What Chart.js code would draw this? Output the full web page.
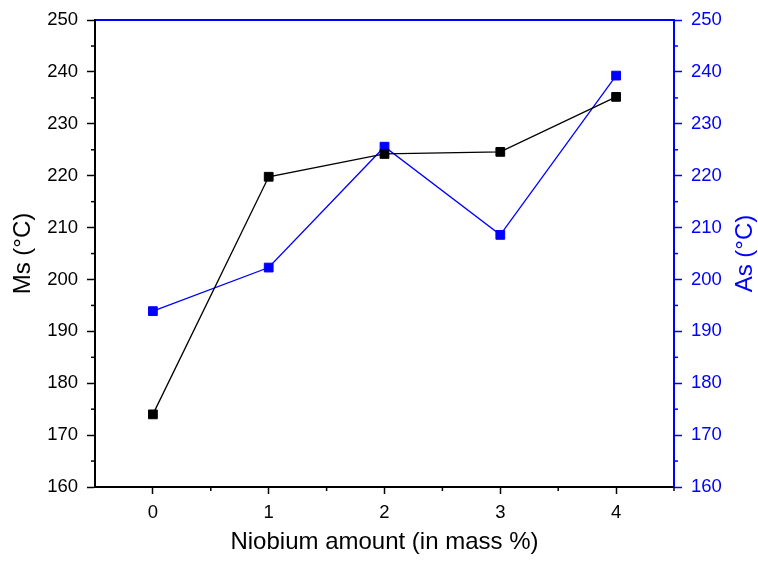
<!DOCTYPE html>
<html>
<head>
<meta charset="utf-8">
<script src="https://cdn.jsdelivr.net/npm/chart.js@4"></script>
<style>
  html, body { margin: 0; padding: 0; background: #fff; }
  #wrap { width: 758px; height: 561px; }
</style>
</head>
<body>
<div id="wrap"><canvas id="chart" width="758" height="561"></canvas></div>
<script>
(function () {
    "use strict";

    const niobium = [0, 1, 2, 3, 4];
    const msValues = [174.0, 219.8, 224.2, 224.6, 235.2];
    const asValues = [193.9, 202.3, 225.6, 208.6, 239.3];
    const xTicks = [0, 1, 2, 3, 4];
    const yTicks = [160, 170, 180, 190, 200, 210, 220, 230, 240, 250];

    const BLUE = "#0000ff";
    const FONT = "'Liberation Sans', Arial, sans-serif";

    // short minor ticks halfway between the major ones
    const minorTicks = {
        id: "minorTicks",
        afterDraw(chart) {
            const ctx = chart.ctx;
            const area = chart.chartArea;
            ctx.save();
            ctx.lineWidth = 1.5;
            const x = chart.scales.x;
            ctx.strokeStyle = "#000";
            xTicks.forEach((v) => {
                const px = x.getPixelForValue(v + 0.5);
                ctx.beginPath();
                ctx.moveTo(px, area.bottom);
                ctx.lineTo(px, area.bottom + 4);
                ctx.stroke();
            });
            [["y", "#000", -1], ["y2", BLUE, 1]].forEach(([id, color, dir]) => {
                const s = chart.scales[id];
                const edge = dir < 0 ? area.left : area.right;
                ctx.strokeStyle = color;
                yTicks.slice(0, -1).forEach((v) => {
                    const py = s.getPixelForValue(v + 5);
                    ctx.beginPath();
                    ctx.moveTo(edge, py);
                    ctx.lineTo(edge + dir * 4, py);
                    ctx.stroke();
                });
            });
            ctx.restore();
        },
    };

    // both y titles read bottom-to-top, like the original
    const sideTitles = {
        id: "sideTitles",
        afterDraw(chart) {
            const ctx = chart.ctx;
            const area = chart.chartArea;
            const cy = (area.top + area.bottom) / 2;
            ctx.save();
            ctx.font = "24px " + FONT;
            ctx.textAlign = "center";
            ctx.textBaseline = "middle";
            [["Ms (°C)", "#000", 23], ["As (°C)", BLUE, 745]].forEach(([text, color, cx]) => {
                ctx.save();
                ctx.translate(cx, cy);
                ctx.rotate(-Math.PI / 2);
                ctx.fillStyle = color;
                ctx.fillText(text, 0, 0);
                ctx.restore();
            });
            ctx.restore();
        },
    };

    const setTicks = (list) => (scale) => {
        scale.ticks = list.map((v) => ({ value: v }));
    };

    const ctx = document.getElementById("chart").getContext("2d");
    new Chart(ctx, {
        type: "line",
        data: {
            labels: niobium,
            datasets: [
                {
                    label: "Ms",
                    data: niobium.map((n, i) => ({ x: n, y: msValues[i] })),
                    yAxisID: "y",
                    borderColor: "#000",
                    backgroundColor: "#000",
                    borderWidth: 1.3,
                    pointStyle: "rect",
                    pointRadius: 6.2,
                    pointBorderWidth: 1,
                    pointBorderColor: "#000",
                    pointBackgroundColor: "#000",
                    tension: 0,
                },
                {
                    label: "As",
                    data: niobium.map((n, i) => ({ x: n, y: asValues[i] })),
                    yAxisID: "y2",
                    borderColor: BLUE,
                    backgroundColor: BLUE,
                    borderWidth: 1.3,
                    pointStyle: "rect",
                    pointRadius: 6.2,
                    pointBorderWidth: 1,
                    pointBorderColor: BLUE,
                    pointBackgroundColor: BLUE,
                    tension: 0,
                },
            ],
        },
        options: {
            responsive: false,
            animation: false,
            layout: { padding: 0 },
            plugins: {
                legend: { display: false },
                tooltip: { enabled: false },
            },
            scales: {
                x: {
                    type: "linear",
                    position: "bottom",
                    min: -0.5,
                    max: 4.5,
                    afterBuildTicks: setTicks(xTicks),
                    afterFit: (s) => { s.height = 74; },
                    ticks: {
                        color: "#000",
                        font: { family: FONT, size: 18.5 },
                        padding: 8,
                        maxRotation: 0,
                    },
                    grid: {
                        drawOnChartArea: false,
                        tickLength: 7,
                        tickWidth: 1.5,
                        tickColor: "#000",
                    },
                    border: { color: "#000", width: 2 },
                    title: {
                        display: true,
                        text: "Niobium amount (in mass %)",
                        color: "#000",
                        font: { family: FONT, size: 24 },
                        padding: { top: 3 },
                    },
                },
                xTop: {
                    type: "linear",
                    position: "top",
                    min: -0.5,
                    max: 4.5,
                    afterFit: (s) => { s.height = 20; },
                    ticks: { display: false },
                    grid: { display: false, drawTicks: false },
                    border: { color: BLUE, width: 2 },
                },
                y: {
                    type: "linear",
                    position: "left",
                    min: 160,
                    max: 250,
                    afterBuildTicks: setTicks(yTicks),
                    afterFit: (s) => { s.width = 95; },
                    ticks: {
                        color: "#000",
                        font: { family: FONT, size: 18.5 },
                        padding: 9,
                    },
                    grid: {
                        drawOnChartArea: false,
                        tickLength: 8,
                        tickWidth: 1.5,
                        tickColor: "#000",
                    },
                    border: { color: "#000", width: 2 },
                },
                y2: {
                    type: "linear",
                    position: "right",
                    min: 160,
                    max: 250,
                    afterBuildTicks: setTicks(yTicks),
                    afterFit: (s) => { s.width = 84; },
                    ticks: {
                        color: BLUE,
                        font: { family: FONT, size: 18.5 },
                        padding: 9,
                    },
                    grid: {
                        drawOnChartArea: false,
                        tickLength: 8,
                        tickWidth: 1.5,
                        tickColor: BLUE,
                    },
                    border: { color: BLUE, width: 2 },
                },
            },
        },
        plugins: [minorTicks, sideTitles],
    });
})();
</script>
</body>
</html>
